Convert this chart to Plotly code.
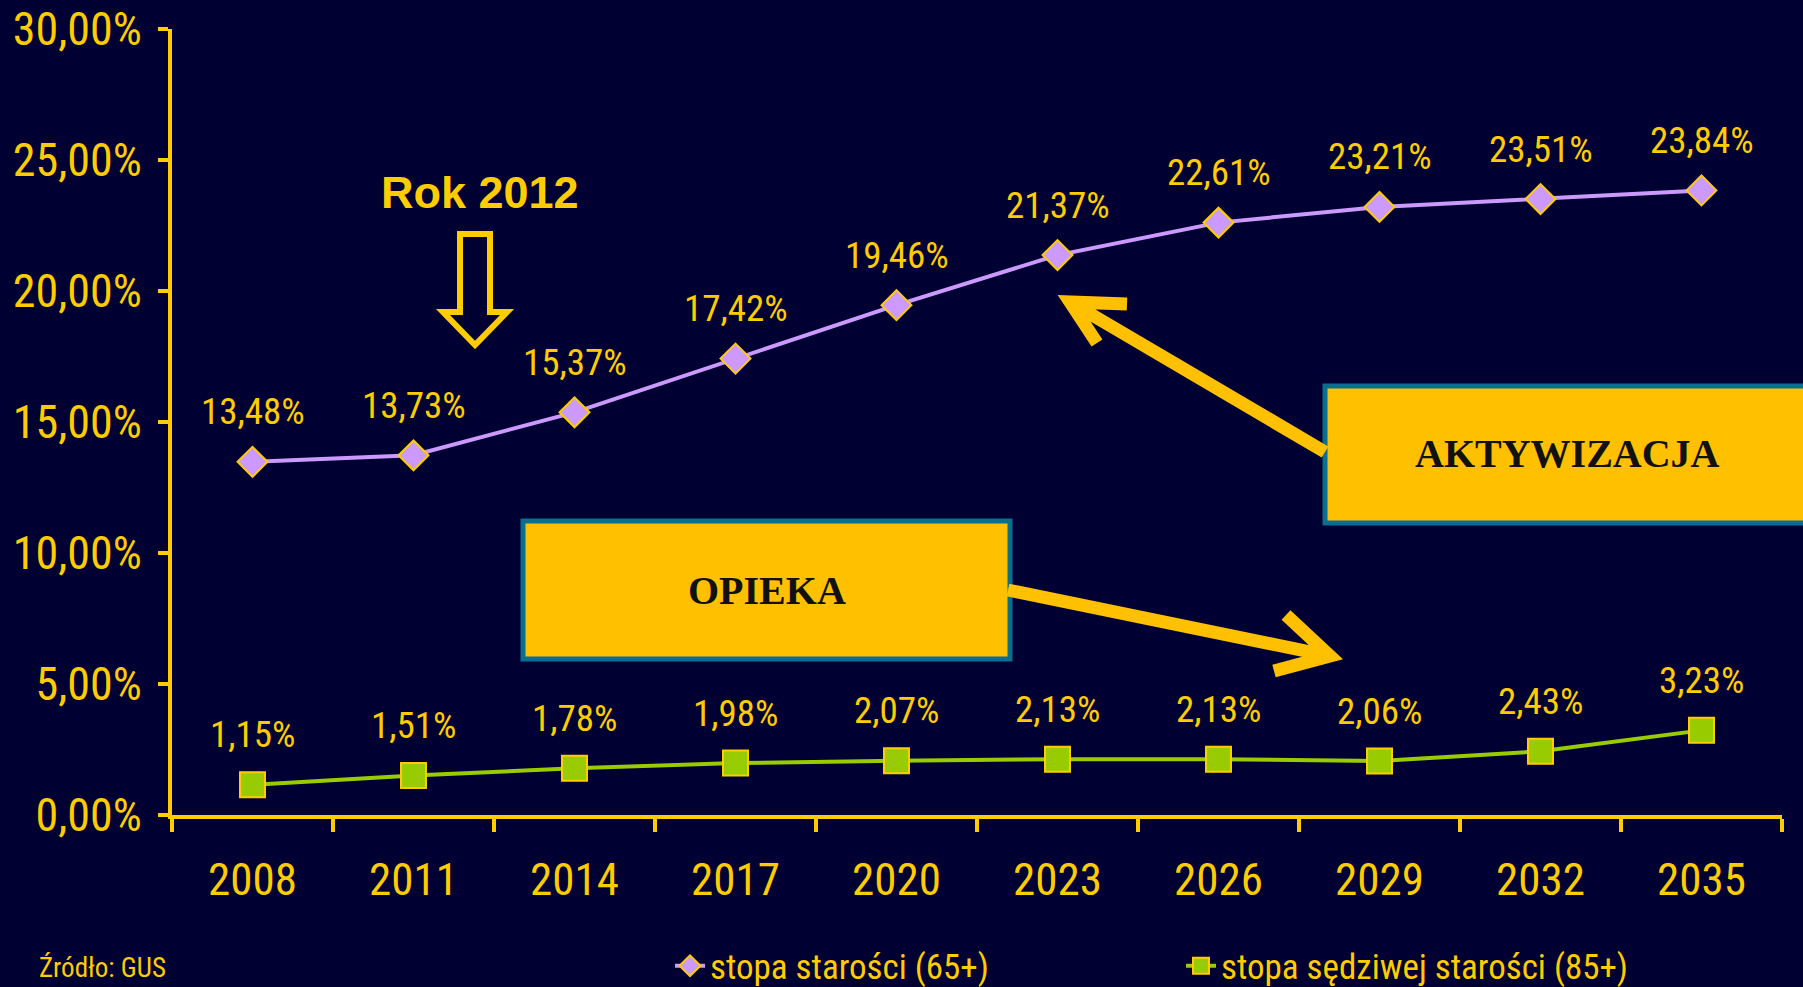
import plotly.graph_objects as go

# Data
years = ["2008", "2011", "2014", "2017", "2020", "2023", "2026", "2029", "2032", "2035"]
old_age = [13.48, 13.73, 15.37, 17.42, 19.46, 21.37, 22.61, 23.21, 23.51, 23.84]
very_old_age = [1.15, 1.51, 1.78, 1.98, 2.07, 2.13, 2.13, 2.06, 2.43, 3.23]
y_ticks = [0, 5, 10, 15, 20, 25, 30]
name_old = "stopa starości (65+)"
name_very_old = "stopa sędziwej starości (85+)"

BG = "#000033"
YELLOW = "#FFCC00"
GOLD = "#FFC000"
TEAL = "#0A6E90"
PURPLE = "#CC99FF"
GREEN = "#99CC00"
NARROW = "Roboto Condensed, Liberation Sans Narrow, Arial Narrow, sans-serif"
SANS = "Liberation Sans, Arial, sans-serif"
SERIF = "Liberation Serif, Times New Roman, serif"

# plot area in pixels (for decorations)
W, H = 1803, 987
L, R, T, B = 172, 1782, 29, 815


def px(x):
    return (x - L) / (R - L)


def py(y):
    return (B - y) / (B - T)


def fmt(v):
    return f"{v:.2f}%".replace(".", ",")


fig = go.Figure()

fig.add_trace(go.Scatter(
    x=years, y=old_age, name=name_old, mode="lines+markers",
    line=dict(color=PURPLE, width=4),
    marker=dict(symbol="diamond", size=23, color=PURPLE, line=dict(color=YELLOW, width=2)),
))
fig.add_trace(go.Scatter(
    x=years, y=very_old_age, name=name_very_old, mode="lines+markers",
    line=dict(color=GREEN, width=4),
    marker=dict(symbol="square", size=25, color=GREEN, line=dict(color=YELLOW, width=2)),
))

annotations = []
for series in (old_age, very_old_age):
    for i, v in enumerate(series):
        annotations.append(dict(
            x=i, y=v, text=fmt(v), showarrow=False, yshift=50, xanchor="center",
            font=dict(family=NARROW, size=37, color=YELLOW),
        ))

# Rok 2012 label
annotations.append(dict(
    x=px(480), y=py(192), xref="paper", yref="paper", text="<b>Rok 2012</b>",
    showarrow=False, xanchor="center", yanchor="middle",
    font=dict(family=SANS, size=45, color=YELLOW),
))

# box labels
annotations.append(dict(
    x=px(767), y=py(590), xref="paper", yref="paper", text="<b>OPIEKA</b>",
    showarrow=False, xanchor="center", yanchor="middle",
    font=dict(family=SERIF, size=40, color="#111111"),
))
annotations.append(dict(
    x=px(1567), y=py(454), xref="paper", yref="paper", text="<b>AKTYWIZACJA</b>",
    showarrow=False, xanchor="center", yanchor="middle",
    font=dict(family=SERIF, size=40, color="#111111"),
))

# source
annotations.append(dict(
    x=px(37), y=py(968), xref="paper", yref="paper", xanchor="left", yanchor="middle",
    text="Źródło: GUS", showarrow=False,
    font=dict(family=NARROW, size=27, color=YELLOW),
))


def path_str(points_list):
    parts = []
    for pts in points_list:
        parts.append("M " + " L ".join(f"{px(x):.5f},{py(y):.5f}" for x, y in pts))
    return " ".join(parts)


# hollow down arrow
hollow = path_str([[(460, 234), (490, 234), (490, 312), (507, 312), (475, 345), (443, 312), (460, 312)]]) + " Z"

arrow_up = path_str([[(1325, 452), (1070, 302)], [(1127, 304), (1070, 302), (1097, 343)]])
arrow_down = path_str([[(1008, 590), (1330, 656)], [(1286, 615), (1330, 656), (1274, 671)]])

shapes = [
    dict(type="path", path=hollow, xref="paper", yref="paper",
         line=dict(color=YELLOW, width=6), fillcolor="rgba(0,0,0,0)"),
    dict(type="rect", xref="paper", yref="paper",
         x0=px(523), x1=px(1010), y0=py(659), y1=py(521),
         fillcolor=GOLD, line=dict(color=TEAL, width=5)),
    dict(type="rect", xref="paper", yref="paper",
         x0=px(1325), x1=px(1830), y0=py(523), y1=py(386),
         fillcolor=GOLD, line=dict(color=TEAL, width=5)),
    dict(type="path", path=arrow_up, xref="paper", yref="paper",
         line=dict(color=GOLD, width=13)),
    dict(type="path", path=arrow_down, xref="paper", yref="paper",
         line=dict(color=GOLD, width=13)),
]

fig.update_layout(
    width=W, height=H,
    margin=dict(l=L, r=W - R, t=T, b=H - B, autoexpand=False),
    paper_bgcolor=BG, plot_bgcolor=BG,
    font=dict(family=NARROW, color=YELLOW),
    xaxis=dict(
        type="category", tickson="boundaries", ticks="outside", ticklen=13,
        tickwidth=4, tickcolor=YELLOW, showline=True, linecolor=YELLOW, linewidth=4,
        showgrid=False, tickangle=0, range=[-0.5, len(years) - 0.5], automargin=False,
        tickfont=dict(family=NARROW, size=45, color=YELLOW), ticklabelstandoff=22,
    ),
    yaxis=dict(
        range=[0, 30], tickmode="array", tickvals=y_ticks, ticktext=[fmt(v) for v in y_ticks],
        ticks="outside", ticklen=10, tickwidth=4, tickcolor=YELLOW, automargin=False,
        showline=True, linecolor=YELLOW, linewidth=4, showgrid=False, zeroline=False,
        tickfont=dict(family=NARROW, size=46, color=YELLOW), ticklabelstandoff=7,
    ),
    legend=dict(
        orientation="h", xref="container", yref="container",
        x=670 / W, y=(H - 966) / H, xanchor="left", yanchor="middle",
        font=dict(family=NARROW, size=35, color=YELLOW), bgcolor="rgba(0,0,0,0)",
        entrywidth=466, entrywidthmode="pixels",
    ),
    annotations=annotations,
    shapes=shapes,
)

fig.write_html(
    "out.html",
    config={"displayModeBar": False},
    post_script="document.body.style.margin='0';document.body.style.overflow='hidden';",
)
